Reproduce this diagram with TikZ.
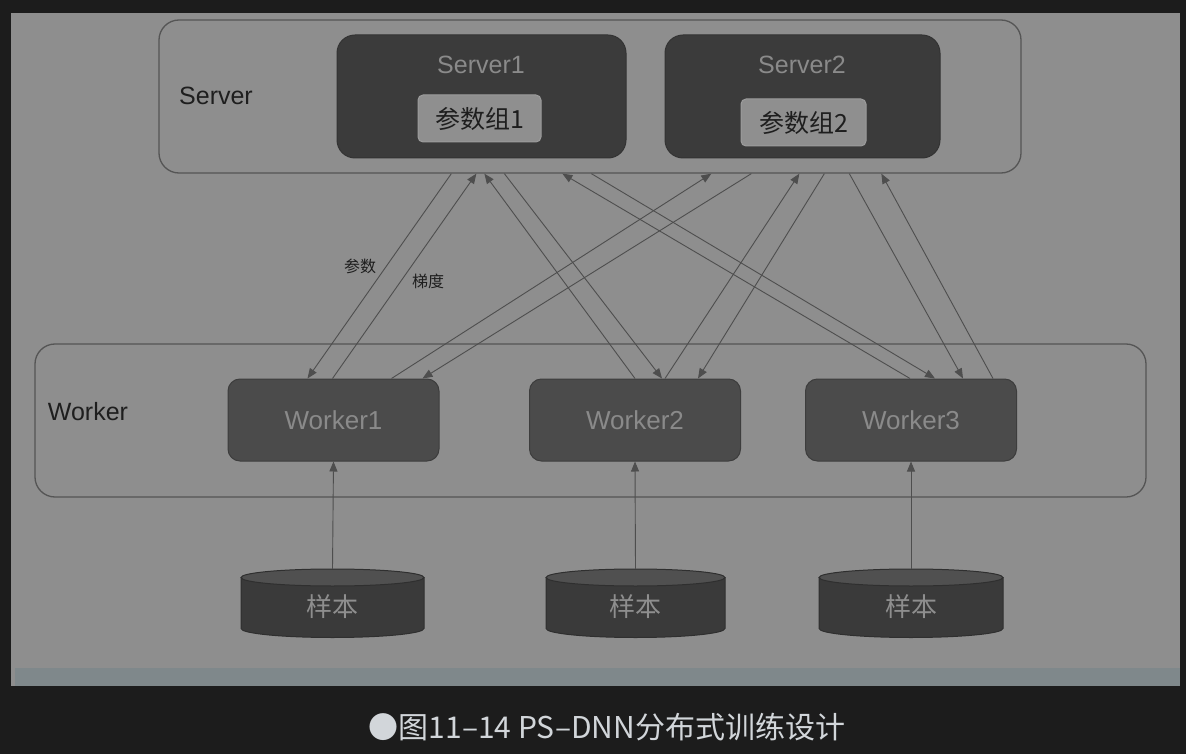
\documentclass[tikz,border=0pt]{standalone}
\usepackage{fontspec}
\setmainfont{Liberation Sans}
\newfontfamily\cjk{Noto Sans CJK SC}
\usetikzlibrary{arrows.meta,calc}
\definecolor{bg}{HTML}{1C1C1C}
\definecolor{panel}{HTML}{8E8E8E}
\definecolor{strip}{HTML}{7F888B}
\definecolor{boxline}{HTML}{555555}
\definecolor{srvfill}{HTML}{3B3B3B}
\definecolor{srvline}{HTML}{333333}
\definecolor{srvtext}{HTML}{8A8A8A}
\definecolor{grpfill}{HTML}{8F8F8F}
\definecolor{grpline}{HTML}{9C9C9C}
\definecolor{grptext}{HTML}{1E1E1E}
\definecolor{wfill}{HTML}{4B4B4B}
\definecolor{wline}{HTML}{3D3D3D}
\definecolor{wtext}{HTML}{8A8A8A}
\definecolor{cylbody}{HTML}{3A3A3A}
\definecolor{cyltop}{HTML}{505050}
\definecolor{cylline}{HTML}{2F2F2F}
\definecolor{arrowc}{HTML}{4E4E4E}
\definecolor{labtext}{HTML}{1E1E1E}
\definecolor{captext}{HTML}{D2D6DA}
\begin{document}
\begin{tikzpicture}[x=1pt,y=-1pt,
  outerbox/.style={draw=boxline, line width=1.3pt, rounded corners=20pt, inner sep=0pt},
  srvbox/.style={fill=srvfill, draw=srvline, line width=1pt, rounded corners=18pt, inner sep=0pt, minimum height=123pt},
  grpbox/.style={fill=grpfill, draw=grpline, line width=1pt, rounded corners=5pt, inner sep=0pt, minimum height=47pt, text=grptext, font=\cjk\fontsize{25}{30}\selectfont},
  wbox/.style={fill=wfill, draw=wline, line width=1pt, rounded corners=12pt, inner sep=0pt, minimum width=211pt, minimum height=82pt, text=wtext, font=\fontsize{26}{30}\selectfont},
  bigtext/.style={text=labtext, font=\fontsize{25}{30}\selectfont, inner sep=0pt},
  lighttext/.style={text=srvtext, font=\fontsize{25}{30}\selectfont, inner sep=0pt},
  smalllab/.style={text=labtext, font=\cjk\fontsize{16}{18}\selectfont, inner sep=0pt},
  cyltext/.style={text=panel, font=\cjk\fontsize{26}{30}\selectfont, inner sep=0pt, minimum height=76pt},
  flow/.style={draw=arrowc, line width=0.9pt, -{Triangle[length=10pt,width=8pt]}}
]
\useasboundingbox (0,0) rectangle (1186,754);
\fill[bg] (0,0) rectangle (1186,754);
\fill[panel] (11,13) rectangle (1180,686);
\fill[strip] (15,668) rectangle (1180,686);

% Server group
\node[outerbox, minimum width=862pt, minimum height=153pt] (srv) at (590,96.5) {};
\node[bigtext] (srvlab) at (216,96) {Server};
\node[srvbox, minimum width=289pt] (s1) at (481.5,96.5) {};
\node[srvbox, minimum width=275pt] (s2) at (802.5,96.5) {};
\node[lighttext] (s1lab) at (481,65) {Server1};
\node[lighttext] (s2lab) at (802,65) {Server2};
\node[grpbox, minimum width=123pt] (g1) at (479.5,118.5) {参数组1};
\node[grpbox, minimum width=125pt] (g2) at (803.5,122.5) {参数组2};

% Worker group
\node[outerbox, minimum width=1111pt, minimum height=153pt] (wrk) at (590.5,420.5) {};
\node[bigtext] (wrklab) at (88,412) {Worker};
\node[wbox] (w1) at (333.5,420) {Worker1};
\node[wbox] (w2) at (635,420) {Worker2};
\node[wbox] (w3) at (911,420) {Worker3};

% cylinders
\foreach \cx/\rx in {332.5/91.5, 635.5/89.5, 911/92}{
  \filldraw[fill=cylbody, draw=cylline, line width=1pt]
    (\cx-\rx,577.5) -- (\cx-\rx,628.5)
    arc[start angle=180, end angle=360, x radius=\rx pt, y radius=9pt]
    -- (\cx+\rx,577.5) -- cycle;
  \filldraw[fill=cyltop, draw=cylline, line width=1pt]
    (\cx,577.5) ellipse[x radius=\rx pt, y radius=8.5pt];
}
\node[cyltext] (d1) at (332.5,607) {样本};
\node[cyltext] (d2) at (635.5,607) {样本};
\node[cyltext] (d3) at (911,607) {样本};

\draw[flow] (d1.north) -- (w1.south);
\draw[flow] (d2.north) -- (w2.south);
\draw[flow] (d3.north) -- (w3.south);

% parameters: server -> worker
\draw[flow] ([xshift=293pt]srv.south west) -- ([xshift=80pt]w1.north west);
\draw[flow] ([xshift=346pt]srv.south west) -- ([xshift=133pt]w2.north west);
\draw[flow] ([xshift=433pt]srv.south west) -- ([xshift=130pt]w3.north west);
\draw[flow] ([xshift=593pt]srv.south west) -- ([xshift=195pt]w1.north west);
\draw[flow] ([xshift=666pt]srv.south west) -- ([xshift=169pt]w2.north west);
\draw[flow] ([xshift=691pt]srv.south west) -- ([xshift=158pt]w3.north west);
% gradients: worker -> server
\draw[flow] ([xshift=105pt]w1.north west) -- ([xshift=318pt]srv.south west);
\draw[flow] ([xshift=106pt]w2.north west) -- ([xshift=326pt]srv.south west);
\draw[flow] ([xshift=105pt]w3.north west) -- ([xshift=404pt]srv.south west);
\draw[flow] ([xshift=164pt]w1.north west) -- ([xshift=553pt]srv.south west);
\draw[flow] ([xshift=136pt]w2.north west) -- ([xshift=641pt]srv.south west);
\draw[flow] ([xshift=188pt]w3.north west) -- ([xshift=723pt]srv.south west);

\node[smalllab] (lp) at (360,266) {参数};
\node[smalllab] (lg) at (428,281) {梯度};

\node[text=captext, font=\cjk\fontsize{30}{36}\selectfont, inner sep=0pt] (cap) at (607,727) {●图11–14 PS–DNN分布式训练设计};
\end{tikzpicture}
\end{document}
